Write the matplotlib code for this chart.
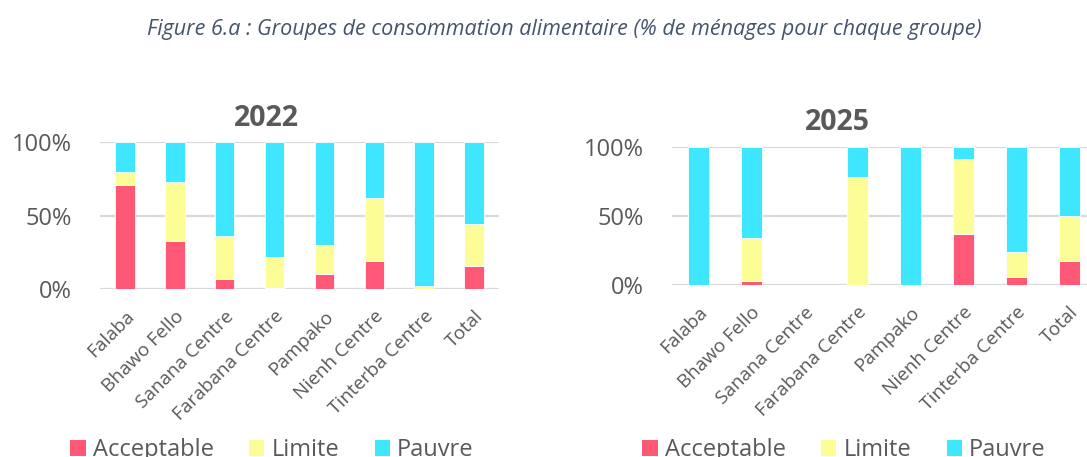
import matplotlib
matplotlib.use("Agg")
import matplotlib.pyplot as plt
from matplotlib.patches import Patch
from matplotlib.ticker import FuncFormatter
import numpy as np

plt.rcParams['font.family'] = ['Open Sans', 'DejaVu Sans']

# Data (% of households per group)
zones = ["Falaba", "Bhawo Fello", "Sanana Centre", "Farabana Centre",
         "Pampako", "Nienh Centre", "Tinterba Centre", "Total"]
groups = ["Acceptable", "Limite", "Pauvre"]

acceptable_2022 = [71, 33, 7, 1, 10, 19, 0, 16]
limite_2022 = [9, 40, 29, 21, 20, 43, 2, 28]
pauvre_2022 = [20, 27, 64, 78, 70, 38, 98, 56]

acceptable_2025 = [0, 3, 0, 0, 0, 37, 6, 17]
limite_2025 = [0, 31, 0, 78, 0, 54, 18, 33]
pauvre_2025 = [100, 66, 0, 22, 100, 9, 76, 50]

colors = ["#FF5877", "#FDFD98", "#3FE6FF"]
grey = "#595959"

W, H = 1087, 457
fig = plt.figure(figsize=(W / 100, H / 100), dpi=100)


def px_axes(x0, x1, ytop, ybot):
    return fig.add_axes([x0 / W, 1 - ybot / H, (x1 - x0) / W, (ybot - ytop) / H])


def draw_panel(ax, series):
    x = np.arange(len(zones))
    bottom = np.zeros(len(zones))
    for vals, c in zip(series, colors):
        ax.bar(x, vals, 0.39, bottom=bottom, color=c, edgecolor="white",
               linewidth=0.6, zorder=3)
        bottom += np.array(vals)
    ax.set_xlim(-0.5, len(zones) - 0.5)
    ax.set_ylim(0, 100)
    ax.set_yticks([0, 50, 100])
    ax.yaxis.set_major_formatter(FuncFormatter(lambda v, p: f"{v:.0f}%"))
    ax.grid(axis="y", color="#D9D9D9", linewidth=1.6, zorder=0)
    ax.set_axisbelow(True)
    for s in ax.spines.values():
        s.set_visible(False)
    ax.tick_params(axis="both", length=0, colors=grey)
    ax.tick_params(axis="y", labelsize=17, pad=20)
    ax.set_xticks(x)
    ax.set_xticklabels(zones, rotation=45, ha="right", rotation_mode="anchor",
                       fontsize=13.7, color=grey)
    ax.tick_params(axis="x", pad=13)


ax1 = px_axes(100, 499, 142.3, 289)
draw_panel(ax1, [acceptable_2022, limite_2022, pauvre_2022])
ax2 = px_axes(671.7, 1096, 146.7, 285)
draw_panel(ax2, [acceptable_2025, limite_2025, pauvre_2025])

fig.text(564 / W, 1 - 30 / H, "Figure 6.a : Groupes de consommation alimentaire (% de ménages pour chaque groupe)",
         ha="center", va="center", fontsize=15.5, style="italic", color="#44546A")
fig.text(266 / W, 1 - 118.5 / H, "2022", ha="center", va="center",
         fontsize=20.5, fontweight="bold", color=grey)
fig.text(837.5 / W, 1 - 122 / H, "2025", ha="center", va="center",
         fontsize=20.5, fontweight="bold", color=grey)

handles = [Patch(facecolor=c, edgecolor="none") for c in colors]
for cx in (272, 844):
    fig.legend(handles, groups, loc="center", bbox_to_anchor=(cx / W, 1 - 450 / H),
               ncol=3, frameon=False, fontsize=17, handlelength=0.65,
               handleheight=0.65, handletextpad=0.3, columnspacing=1.5,
               labelcolor=grey, borderaxespad=0, borderpad=0)

fig.savefig("out.png", dpi=100)
